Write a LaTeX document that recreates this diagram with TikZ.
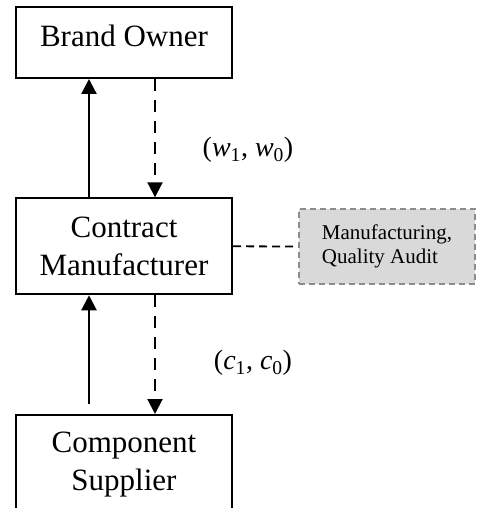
\documentclass[tikz,border=0pt]{standalone}
\usepackage{fontspec}
\setmainfont{Liberation Serif}
\usetikzlibrary{arrows.meta,calc}
\begin{document}
\begin{tikzpicture}[x=1pt,y=-1pt,
  bigbox/.style={draw=black,line width=2pt,minimum width=216pt,align=center,
    inner sep=0pt,font=\fontsize{31}{38}\selectfont},
  auditbox/.style={draw=black!45,line width=1.6pt,fill=black!15,dash pattern=on 6pt off 4pt,
    minimum width=176pt,minimum height=75pt,align=left,inner sep=0pt,
    font=\fontsize{21}{23.5}\selectfont},
  flowarrow/.style={line width=2.3pt,-{Triangle[width=15pt,length=15pt]}},
  pricearrow/.style={line width=2pt,dash pattern=on 12pt off 9pt,-{Triangle[width=15pt,length=15pt]}},
  linkline/.style={line width=1.8pt,dash pattern=on 8pt off 5pt},
  pricelabel/.style={font=\fontsize{28}{32}\selectfont,inner sep=0pt}]
\useasboundingbox (0,0) rectangle (486,508);
\clip (0,0) rectangle (486,508);
\node[bigbox,minimum height=71pt,text depth=14pt] (BO) at (124,42.5) {Brand Owner};
\node[bigbox,minimum height=96pt] (CM) at (124,246.3) {Contract\\Manufacturer};
\node[bigbox,minimum height=100pt] (CS) at (124,465) {Component\\Supplier};
\node[auditbox] (QA) at (387,246.5) {Manufacturing,\\Quality Audit};
\coordinate (sx) at (89,0);
\coordinate (dx) at (155,0);
\draw[flowarrow] (CM.north -| sx) -- (BO.south -| sx);
\draw[pricearrow] (BO.south -| dx) -- (CM.north -| dx);
\draw[flowarrow,shorten <=10pt] (CS.north -| sx) -- (CM.south -| sx);
\draw[pricearrow] (CM.south -| dx) -- (CS.north -| dx);
\draw[linkline] (CM.east) -- (QA.west);
\node[pricelabel] (wl) at (248,150) {(\textit{w}\textsubscript{1}, \textit{w}\textsubscript{0})};
\node[pricelabel] (cl) at (253,363) {(\textit{c}\textsubscript{1}, \textit{c}\textsubscript{0})};
\end{tikzpicture}
\end{document}
